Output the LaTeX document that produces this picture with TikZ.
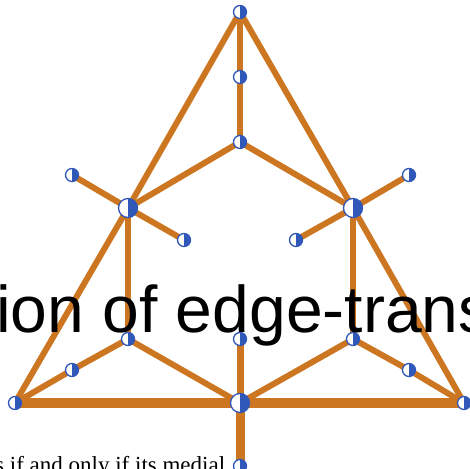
\documentclass[tikz,border=0pt]{standalone}
\usepackage{fontspec}
\usepackage{xcolor}
\usepackage{tikz}
\usetikzlibrary{backgrounds}
\newfontfamily\bigsans{Liberation Sans}
\newfontfamily\capserif{Liberation Serif}
\definecolor{edgeorange}{RGB}{204,118,34}
\definecolor{vtxblue}{RGB}{48,88,184}

\begin{document}
\begin{tikzpicture}[x=1pt,y=-1pt,
  vtx/.style={circle,draw=vtxblue,line width=1.3pt,fill=white,inner sep=0pt,minimum size=13pt,
    path picture={\fill[vtxblue] (path picture bounding box.north) rectangle (path picture bounding box.south east);}},
  hubvtx/.style={vtx,minimum size=19pt},
  link/.style={draw=edgeorange,line width=6pt},
  heavy/.style={draw=edgeorange,line width=10pt}]
  \useasboundingbox (0,0) rectangle (470,468);
  \clip (0,0) rectangle (470,468);
  % vertices
  \node[vtx] (top) at (240,12) {};
  \node[vtx] (topmid) at (240,77) {};
  \node[vtx] (inner) at (240,142) {};
  \node[hubvtx] (lhub) at (128,208) {};
  \node[hubvtx] (rhub) at (353,208) {};
  \node[vtx] (lout) at (72,175) {};
  \node[vtx] (lin) at (184,240) {};
  \node[vtx] (rout) at (409,175) {};
  \node[vtx] (rin) at (296,240) {};
  \node[vtx] (lmid) at (128,339) {};
  \node[vtx] (cmid) at (240,339) {};
  \node[vtx] (rmid) at (353,339) {};
  \node[vtx] (lsub) at (72,370) {};
  \node[vtx] (rsub) at (409,370) {};
  \node[vtx] (bl) at (15,403) {};
  \node[hubvtx] (bc) at (240,403) {};
  \node[vtx] (br) at (464,403) {};
  \node[vtx] (stem) at (240,466) {};
  % edges
  \begin{scope}[on background layer]
    \path[link] (top.center) -- (lhub.center) -- (bl.center);
    \path[link] (top.center) -- (rhub.center) -- (br.center);
    \path[link] (top.center) -- (topmid.center) -- (inner.center);
    \path[link] (lhub.center) -- (inner.center) -- (rhub.center);
    \path[link] (lout.center) -- (lhub.center) -- (lin.center);
    \path[link] (rout.center) -- (rhub.center) -- (rin.center);
    \path[link] (lhub.center) -- (lmid.center);
    \path[link] (rhub.center) -- (rmid.center);
    \path[link] (bl.center) -- (lsub.center) -- (lmid.center) -- (bc.center);
    \path[link] (br.center) -- (rsub.center) -- (rmid.center) -- (bc.center);
    \path[link,line width=7pt] (bc.center) -- (cmid.center);
    \path[heavy] (bl.center) -- (bc.center) -- (br.center);
    \path[heavy,line width=9pt] (bc.center) -- (stem.center);
  \end{scope}
  % overlaid captions
  \node[anchor=base west,inner sep=0pt,font=\capserif\fontsize{23}{26}\selectfont] (capline) at (-5,472) {s if and only if its medial};
  \node[anchor=base west,inner sep=0pt,font=\bigsans\fontsize{66}{70}\selectfont] (bigline) at (-4,332) {ion of edge-transitive};
\end{tikzpicture}
\end{document}
